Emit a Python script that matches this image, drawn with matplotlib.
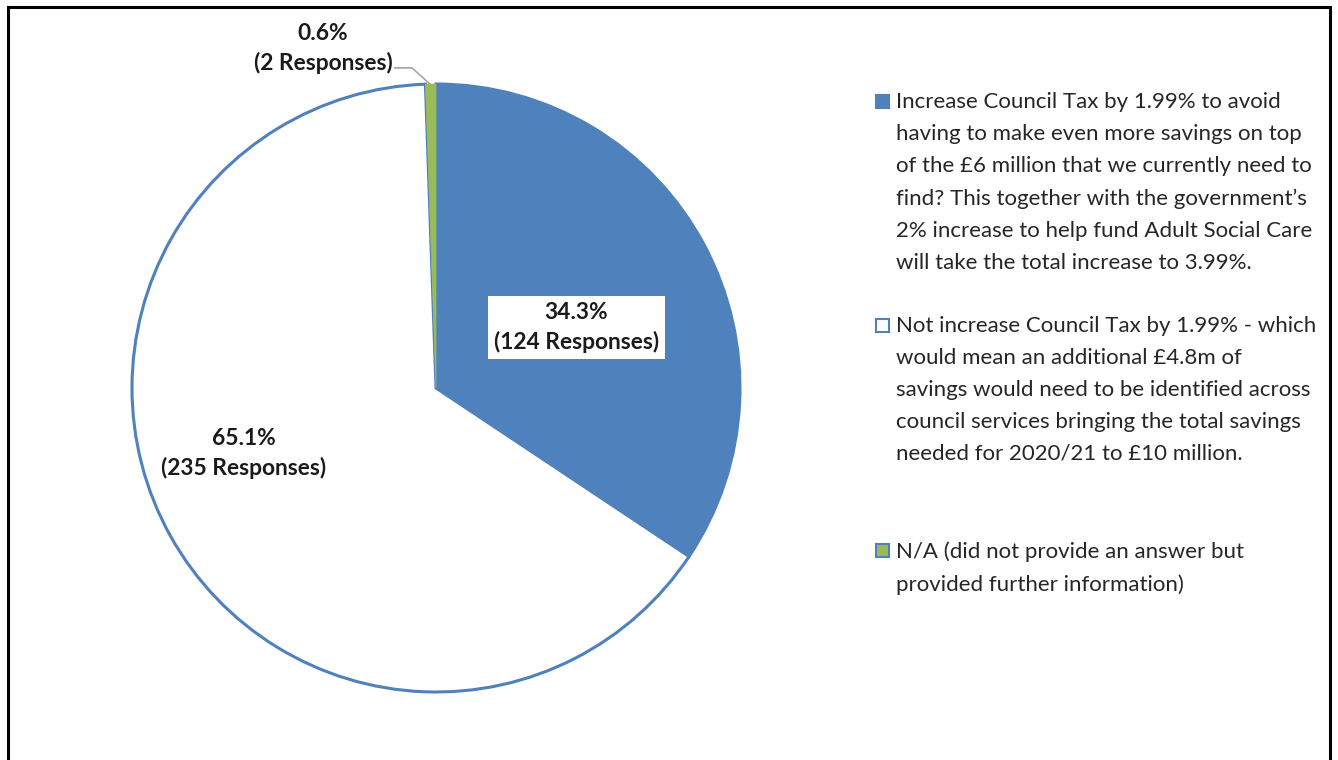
import matplotlib
matplotlib.use("Agg")
import matplotlib.pyplot as plt
from matplotlib.patches import Rectangle

plt.rcParams['font.family'] = ['Lato', 'DejaVu Sans']

categories = [
    "Increase Council Tax by 1.99% to avoid\nhaving to make even more savings on top\nof the £6 million that we currently need to\nfind? This together with the government\u2019s\n2% increase to help fund Adult Social Care\nwill take the total increase to 3.99%.",
    "Not increase Council Tax by 1.99% - which\nwould mean an additional £4.8m of\nsavings would need to be identified across\ncouncil services bringing the total savings\nneeded for 2020/21 to £10 million.",
    "N/A (did not provide an answer but\nprovided further information)",
]
responses = [124, 235, 2]
percent_labels = ["34.3%", "65.1%", "0.6%"]
colors = ["#4F81BD", "#FFFFFF", "#9BBB59"]

W, H = 1338, 760
fig = plt.figure(figsize=(W / 100, H / 100), dpi=100)

# pie axes: center (436,388) px, radius 304 px
cx, cy, r = 436, 388, 304
half = 420
ax = fig.add_axes([(cx - half) / W, (H - cy - half) / H, 2 * half / W, 2 * half / H])
wedges, _ = ax.pie(responses, colors=colors, startangle=90, counterclock=False,
                   radius=1.0,
                   wedgeprops=dict(edgecolor="#4F81BD", linewidth=2.2))
wedges[2].set_edgecolor("#9BBB59")
wedges[2].set_linewidth(0.5)
lim = half / r
ax.set_xlim(-lim, lim)
ax.set_ylim(-lim, lim)
ax.set_aspect('equal')
ax.axis('off')

lfs = 16.4
ls = 1.46
lbl = [f"{p}\n({n} Responses)" for p, n in zip(percent_labels, responses)]
ax.text(0.462, 0.2, lbl[0], ha='center', va='center', fontsize=lfs, fontweight='bold',
        color='#1a1a1a', linespacing=ls,
        bbox=dict(boxstyle='square,pad=0.25', facecolor='white', edgecolor='none'))
ax.text(-0.632, -0.215, lbl[1], ha='center', va='center', fontsize=lfs, fontweight='bold',
        color='#1a1a1a', linespacing=ls)
ax.text(-0.372, 1.117, lbl[2], ha='center', va='center', fontsize=lfs, fontweight='bold',
        color='#1a1a1a', linespacing=ls)
ax.plot([-0.135, -0.079, -0.02], [1.053, 1.053, 1.0], color='#A6A6A6', lw=1.2,
        clip_on=False)

# legend (manual, to reproduce uneven spacing)
fs = 16
leg_tops = [101, 325, 550]
for lab, col, ty in zip(categories, colors, leg_tops):
    fig.text(896 / W, 1 - (ty - 9) / H, lab, ha='left', va='top', fontsize=fs,
             color='#262626', linespacing=1.75)
    fig.patches.append(Rectangle(((876) / W, 1 - (ty + 7) / H), 13 / W, 13 / H,
                                 transform=fig.transFigure, facecolor=col,
                                 edgecolor='#4F81BD', linewidth=1.5))

# outer frame
fig.patches.append(Rectangle((8 / W, -0.05), (1330 - 8) / W, 1.05 - 7 / H,
                             transform=fig.transFigure, facecolor='none',
                             edgecolor='black', linewidth=2.2))

fig.savefig("out.png", dpi=100)
